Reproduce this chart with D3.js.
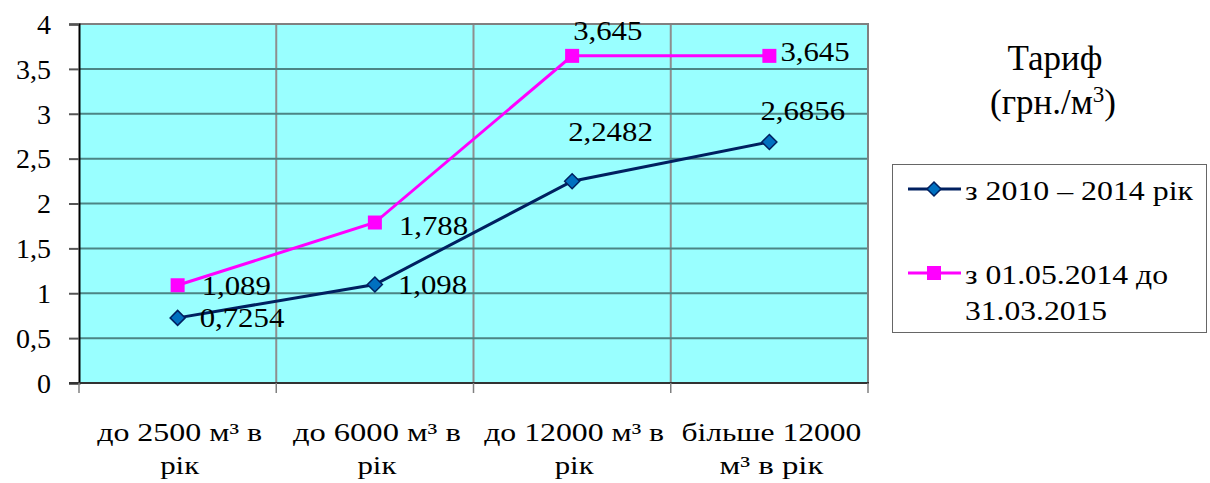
<!DOCTYPE html>
<html>
<head>
<meta charset="utf-8">
<script src="https://cdn.jsdelivr.net/npm/d3@7"></script>
<style>
  html, body { margin: 0; padding: 0; background: #fff; }
  svg { display: block; }
  svg text { font-family: "Liberation Serif", "Times New Roman", Tinos, "DejaVu Serif", "Noto Serif", serif; fill: #000; }
</style>
</head>
<body>
<svg id="chart" width="1210" height="483"></svg>
<script>
// Тарифи за категоріями споживання
const categories = [
  ["до 2500 м³ в", "рік"],
  ["до 6000 м³ в", "рік"],
  ["до 12000 м³ в", "рік"],
  ["більше 12000", "м³ в рік"]
];
const series2010 = [0.7254, 1.098, 2.2482, 2.6856];
const series2014 = [1.089, 1.788, 3.645, 3.645];
const labels2010 = ["0,7254", "1,098", "2,2482", "2,6856"];
const labels2014 = ["1,089", "1,788", "3,645", "3,645"];
const yTicks = [0, 0.5, 1, 1.5, 2, 2.5, 3, 3.5, 4];
const yTickLabels = ["0", "0,5", "1", "1,5", "2", "2,5", "3", "3,5", "4"];
const seriesNames = [["з 2010 – 2014 рік"], ["з 01.05.2014 до", "31.03.2015"]];

// layout of the text blocks
const offsets2010 = [[22, 9], [23, 10], [-4, -40], [-9, -22]];   // [dx, baseline dy]
const offsets2014 = [[24, 10], [24, 12], [1, -16], [11, 5]];
const categoryTextWidths = [[165, 39], [168, 39], [180, 39], [180, 104]];
const legendTextWidths = [[228], [203, 142]];

const svg = d3.select("#chart");
const plot = { left: 79, right: 868, top: 24, bottom: 383 };

const x = d3.scaleBand()
  .domain(d3.range(categories.length))
  .range([plot.left, plot.right])
  .padding(0);
const y = d3.scaleLinear().domain([0, 4]).range([plot.bottom, plot.top]);
const cx = i => x(i) + x.bandwidth() / 2;
const edge = i => i < categories.length ? x(i) : plot.right;

// plot background
svg.append("rect")
  .attr("x", plot.left).attr("y", plot.top)
  .attr("width", plot.right - plot.left).attr("height", plot.bottom - plot.top)
  .attr("fill", "#99ffff");

// vertical gridlines at category boundaries
svg.append("g").selectAll("line")
  .data(d3.range(1, categories.length))
  .join("line")
  .attr("x1", edge).attr("x2", edge)
  .attr("y1", plot.top).attr("y2", plot.bottom)
  .attr("stroke", "#8e8e8e").attr("stroke-width", 2);

// horizontal gridlines
svg.append("g").selectAll("line")
  .data(yTicks.filter(t => t > 0 && t < 4))
  .join("line")
  .attr("x1", plot.left).attr("x2", plot.right)
  .attr("y1", d => y(d)).attr("y2", d => y(d))
  .attr("stroke", "#4c8585").attr("stroke-width", 2);

// top and right border
svg.append("path")
  .attr("d", `M${plot.left},${plot.top}H${plot.right}V${plot.bottom}`)
  .attr("fill", "none").attr("stroke", "#808080").attr("stroke-width", 2);

// y axis
const yAxis = d3.axisLeft(y)
  .tickValues(yTicks)
  .tickFormat((d, i) => yTickLabels[i])
  .tickSize(10)
  .tickPadding(18);
const gy = svg.append("g")
  .attr("transform", `translate(${plot.left},0)`)
  .call(yAxis)
  .attr("font-family", null);
gy.select(".domain").attr("stroke", "#000").attr("stroke-width", 2);
gy.selectAll(".tick line").attr("stroke", "#555").attr("stroke-width", 2);
gy.selectAll(".tick text")
  .attr("font-size", 28)
  .attr("dy", "0.33em");

// x axis with tick marks at category boundaries
svg.append("line")
  .attr("x1", plot.left - 10).attr("x2", plot.right + 1)
  .attr("y1", plot.bottom).attr("y2", plot.bottom)
  .attr("stroke", "#333").attr("stroke-width", 2);
svg.append("g").selectAll("line")
  .data(d3.range(0, categories.length + 1))
  .join("line")
  .attr("x1", edge).attr("x2", edge)
  .attr("y1", plot.bottom).attr("y2", plot.bottom + 10)
  .attr("stroke", "#808080").attr("stroke-width", 1.5);

// category labels
const catG = svg.append("g");
categories.forEach((lines, i) => {
  lines.forEach((ln, j) => {
    catG.append("text")
      .attr("x", cx(i) + 2).attr("y", 441 + j * 33)
      .attr("text-anchor", "middle")
      .attr("font-size", 25)
      .attr("textLength", categoryTextWidths[i][j])
      .attr("lengthAdjust", "spacingAndGlyphs")
      .text(ln);
  });
});

const line = d3.line().x((d, i) => cx(i)).y(d => y(d));

// series: from 01.05.2014
svg.append("path")
  .datum(series2014)
  .attr("d", line)
  .attr("fill", "none").attr("stroke", "#ff00ff").attr("stroke-width", 3);
svg.append("g").selectAll("rect")
  .data(series2014)
  .join("rect")
  .attr("x", (d, i) => cx(i) - 7).attr("y", d => y(d) - 7)
  .attr("width", 14).attr("height", 14)
  .attr("fill", "#ff00ff");

// series: 2010 – 2014
svg.append("path")
  .datum(series2010)
  .attr("d", line)
  .attr("fill", "none").attr("stroke", "#002060").attr("stroke-width", 3);
const diamond = (px, py, r) => `M${px},${py - r}L${px + r},${py}L${px},${py + r}L${px - r},${py}Z`;
svg.append("g").selectAll("path")
  .data(series2010)
  .join("path")
  .attr("d", (d, i) => diamond(cx(i), y(d), 7.5))
  .attr("fill", "#0070c0").attr("stroke", "#002060").attr("stroke-width", 1.5);

// value labels
function valueLabels(values, labels, offs) {
  svg.append("g").selectAll("text")
    .data(values)
    .join("text")
    .attr("transform", (d, i) => `translate(${cx(i) + offs[i][0]},${y(d) + offs[i][1]}) scale(1.1,1)`)
    .attr("font-size", 28)
    .text((d, i) => labels[i]);
}
valueLabels(series2010, labels2010, offsets2010);
valueLabels(series2014, labels2014, offsets2014);

// title
svg.append("text")
  .attr("x", 1055).attr("y", 70)
  .attr("text-anchor", "middle")
  .attr("font-size", 35)
  .text("Тариф");
const t2 = svg.append("text")
  .attr("x", 1053).attr("y", 114)
  .attr("text-anchor", "middle")
  .attr("font-size", 35);
t2.append("tspan").text("(грн./м");
t2.append("tspan").attr("font-size", 23).attr("dy", -12).text("3");
t2.append("tspan").attr("dy", 12).text(")");

// legend
const lg = svg.append("g");
lg.append("rect")
  .attr("x", 892.5).attr("y", 164.5).attr("width", 314).attr("height", 168)
  .attr("fill", "#fff").attr("stroke", "#666").attr("stroke-width", 1);
const legendRows = [
  { y: 189, color: "#002060", marker: "diamond", textY: [200] },
  { y: 273, color: "#ff00ff", marker: "square", textY: [284, 320] }
];
legendRows.forEach((r, k) => {
  lg.append("line")
    .attr("x1", 908).attr("x2", 961).attr("y1", r.y).attr("y2", r.y)
    .attr("stroke", r.color).attr("stroke-width", 3);
  if (r.marker === "diamond") {
    lg.append("path").attr("d", diamond(934, r.y, 7))
      .attr("fill", "#0070c0").attr("stroke", "#002060").attr("stroke-width", 1.5);
  } else {
    lg.append("rect").attr("x", 927).attr("y", r.y - 7).attr("width", 14).attr("height", 14)
      .attr("fill", "#ff00ff");
  }
  seriesNames[k].forEach((t, j) => {
    lg.append("text")
      .attr("x", 965).attr("y", r.textY[j])
      .attr("font-size", 27)
      .attr("textLength", legendTextWidths[k][j])
      .attr("lengthAdjust", "spacingAndGlyphs")
      .text(t);
  });
});
</script>
</body>
</html>
